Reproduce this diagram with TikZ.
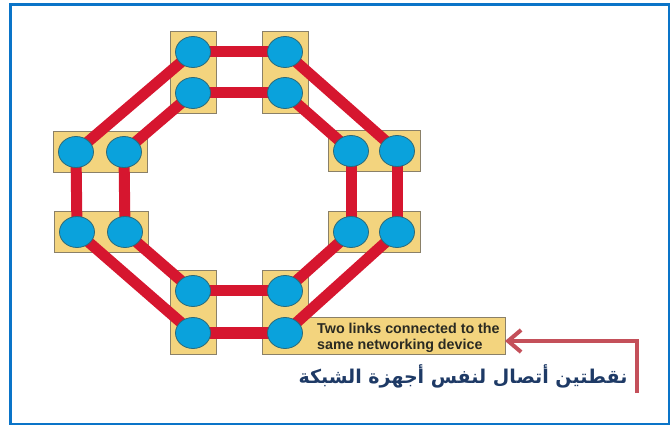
\documentclass[tikz,border=0pt]{standalone}
\usepackage{fontspec}
\setmainfont{Liberation Sans}
\newfontfamily\arabicfont[Script=Arabic]{DejaVu Sans}
\TeXXeTstate=1
\usetikzlibrary{arrows.meta,positioning,shapes.geometric,fit}
\definecolor{frameBlue}{HTML}{0A74C8}
\definecolor{linkRed}{HTML}{D6162F}
\definecolor{portBlue}{HTML}{0AA2DC}
\definecolor{portEdge}{HTML}{2B6A7A}
\definecolor{boxSand}{HTML}{F3D47E}
\definecolor{boxEdge}{HTML}{8A8068}
\definecolor{noteRed}{HTML}{C4505A}
\definecolor{textNavy}{HTML}{1E3A66}
\definecolor{textInk}{HTML}{2A2A22}
\pgfdeclarelayer{back}
\pgfsetlayers{back,main}

\begin{document}
\begin{tikzpicture}[x=1pt,y=-1pt,
  port/.style={ellipse,draw=portEdge,fill=portBlue,line width=0.8pt,minimum width=35pt,minimum height=31pt,inner sep=0pt},
  devbox/.style={rectangle,draw=boxEdge,fill=boxSand,line width=0.8pt,inner sep=5pt},
  link/.style={draw=linkRed,line width=11pt}]
  \useasboundingbox (0,0) rectangle (672,430);
  % outer frame
  \draw[frameBlue,line width=2.6pt] (10.5,4.5) rectangle (669,424);
  % ports, two per device
  \node[port] (tl1) at (193,52) {};
  \node[port] (tl2) at (193,93) {};
  \node[port] (tr1) at (285,52) {};
  \node[port] (tr2) at (285,93) {};
  \node[port] (lu1) at (76,152) {};
  \node[port] (lu2) at (124,152) {};
  \node[port] (ru1) at (351,151) {};
  \node[port] (ru2) at (397,151) {};
  \node[port] (ll1) at (77,232) {};
  \node[port] (ll2) at (125,232) {};
  \node[port] (rl1) at (351,232) {};
  \node[port] (rl2) at (397,232) {};
  \node[port] (bl1) at (193,291) {};
  \node[port] (bl2) at (193,333) {};
  \node[port] (br1) at (285,291) {};
  \node[port] (br2) at (285,333) {};
  \begin{pgfonlayer}{back}
    % devices
    \node[devbox,fit=(tl1)(tl2)] (tl) {};
    \node[devbox,fit=(tr1)(tr2)] (tr) {};
    \node[devbox,fit=(lu1)(lu2)] (lu) {};
    \node[devbox,fit=(ru1)(ru2)] (ru) {};
    \node[devbox,fit=(ll1)(ll2)] (ll) {};
    \node[devbox,fit=(rl1)(rl2)] (rl) {};
    \node[devbox,fit=(bl1)(bl2)] (bl) {};
    \node[devbox,fit=(br1)(br2)] (br) {};
    % note box joined to the lower right device
    \node[fill=boxSand,minimum width=206pt,minimum height=36pt,inner sep=0pt,anchor=south west] (noteBox) at ([xshift=-9pt,yshift=0.5pt]br.south east) {};
    \draw[boxEdge,line width=0.8pt] (br.east |- noteBox.north) -- (noteBox.north east) -- (br.south east -| noteBox.east) -- (br.south east);
    % links
    \foreach \a/\b in {tl1/tr1,tl2/tr2,bl1/br1,bl2/br2,lu1/ll1,lu2/ll2,ru1/rl1,ru2/rl2,
                       tl1/lu1,tl2/lu2,tr1/ru2,tr2/ru1,ll1/bl2,ll2/bl1,rl2/br2,rl1/br1}
      \draw[link] (\a.center) -- (\b.center);
  \end{pgfonlayer}
  \node[textInk,anchor=north west,align=left,inner sep=0pt,font=\bfseries\fontsize{14.3}{16}\selectfont] (noteText) at (317,323) {Two links connected to the\\same networking device};
  % pointer to the note
  \coordinate (noteFoot) at (637,393);
  \coordinate (noteTip) at (505,341);
  \draw[noteRed,line width=4pt,-{Straight Barb[length=13pt,width=22pt]}] (noteFoot) |- (noteTip);
  \node[textNavy,font=\arabicfont\bfseries\fontsize{19}{24}\selectfont] (arabicNote) at (463,376) {\beginR نقطتين أتصال لنفس أجهزة الشبكة\endR};
\end{tikzpicture}
\end{document}
